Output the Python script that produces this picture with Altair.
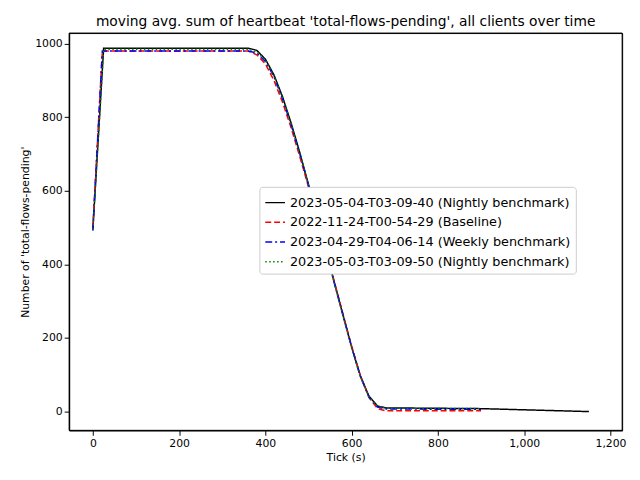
import altair as alt
import pandas as pd

names = [
    "2023-05-04-T03-09-40 (Nightly benchmark)",
    "2022-11-24-T00-54-29 (Baseline)",
    "2023-04-29-T04-06-14 (Weekly benchmark)",
    "2023-05-03-T03-09-50 (Nightly benchmark)",
]

# black
t0 = [0, 25, 360, 380, 400, 420, 440, 460, 480, 500, 520, 540, 560, 580, 600, 620, 640, 660, 680, 900, 1150]
v0 = [495, 988, 988, 982, 958, 915, 855, 783, 703, 617, 530, 440, 350, 262, 175, 98, 42, 15, 10, 8, 0]
# red
t1 = [0, 22, 360, 380, 400, 420, 440, 460, 480, 500, 520, 540, 560, 580, 600, 620, 640, 660, 680, 900]
v1 = [500, 980, 980, 970, 945, 900, 840, 770, 692, 610, 525, 440, 352, 265, 178, 98, 38, 8, 2, 2]
# blue
t2 = [0, 22, 360, 380, 400, 420, 440, 460, 480, 500, 520, 540, 560, 580, 600, 620, 640, 660, 680, 900]
v2 = [492, 980, 980, 975, 952, 910, 850, 778, 700, 615, 528, 440, 350, 262, 175, 96, 40, 12, 7, 6]
# green
t3 = [0, 25, 360, 380, 400, 420, 440, 460, 480, 500, 520, 540, 560, 580, 600, 620, 640, 660, 680, 900]
v3 = [495, 985, 985, 978, 955, 912, 852, 780, 700, 615, 528, 438, 348, 260, 172, 95, 40, 14, 9, 8]

rows = []
for n, ts, vs in zip(names, [t0, t1, t2, t3], [v0, v1, v2, v3]):
    for t, v in zip(ts, vs):
        rows.append({"series": n, "tick": t, "value": v})
df = pd.DataFrame(rows)

lines = alt.Chart(df).mark_line(strokeWidth=1.5).encode(
    x=alt.X("tick:Q", title="Tick (s)", scale=alt.Scale(domain=[-55, 1227], nice=False),
            axis=alt.Axis(values=[0, 200, 400, 600, 800, 1000, 1200], grid=False)),
    y=alt.Y("value:Q", title="Number of 'total-flows-pending'", scale=alt.Scale(domain=[-51, 1029], nice=False),
            axis=alt.Axis(values=[0, 200, 400, 600, 800, 1000], grid=False, format="d")),
    color=alt.Color("series:N", sort=names, title=None,
                    scale=alt.Scale(domain=names, range=["black", "red", "blue", "green"]),
                    legend=alt.Legend(orient="none", legendX=193, legendY=156, symbolType="stroke",
                                      symbolSize=400, labelFontSize=13, labelLimit=400, symbolStrokeWidth=1.5,
                                      fillColor="white", strokeColor="#cccccc", padding=5, cornerRadius=3)),
    strokeDash=alt.StrokeDash("series:N", sort=names, legend=None,
                              scale=alt.Scale(domain=names, range=[[1, 0], [6, 3], [7, 3, 2, 3], [1.5, 2.5]])),
    order="tick:Q",
)

frame = alt.Chart(pd.DataFrame({"a": [0]})).mark_rect(fill=None, stroke="black", strokeWidth=1).encode(
    x=alt.value(0), x2=alt.value(561), y=alt.value(0), y2=alt.value(403)
)

chart = alt.layer(lines, frame).properties(
    width=561, height=403,
    title=alt.Title("moving avg. sum of heartbeat 'total-flows-pending', all clients over time",
                    fontSize=14, fontWeight="normal", anchor="middle"),
    autosize=alt.AutoSizeParams(type="none"),
    padding={"left": 62, "top": 22, "right": 10, "bottom": 50},
).configure_axis(
    domainColor="black", tickColor="black", labelColor="black", titleColor="black",
    labelFontSize=11, titleFontSize=11, titleFontWeight="normal", labelFont="DejaVu Sans", titleFont="DejaVu Sans",
).configure_legend(labelFont="DejaVu Sans").configure_title(font="DejaVu Sans").configure_view(stroke="black")

chart.save("out.html", embed_options={"renderer": "svg", "actions": False})
